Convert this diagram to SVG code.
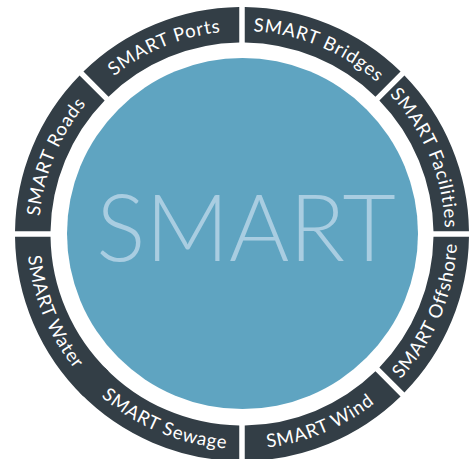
<svg xmlns="http://www.w3.org/2000/svg" width="475" height="459" viewBox="0 0 475 459">
<style>
.seg{fill:#333e46}
.lbl{fill:#ffffff;font-family:Lato,"Open Sans","Liberation Sans",sans-serif;font-size:18.5px;letter-spacing:0.8px}
.core{fill:#5fa4c1}
.coretxt{fill:#a9cde1;font-family:Lato,"Open Sans","Liberation Sans",sans-serif;font-weight:300;font-size:92px}
</style>
<defs>
<path id="pRoads" d="M39,234 A203,203 0 0 1 98.46,90.46"/>
<path id="pPorts" d="M98.46,90.46 A203,203 0 0 1 242,31"/>
<path id="pBridges" d="M242,31 A203,203 0 0 1 385.54,90.46"/>
<path id="pFacilities" d="M385.54,90.46 A203,203 0 0 1 445,234"/>
<path id="pOffshore" d="M394.03,386.03 A215,215 0 0 0 457,234"/>
<path id="pWind" d="M242,449 A215,215 0 0 0 394.03,386.03"/>
<path id="pSewage" d="M89.97,386.03 A215,215 0 0 0 242,449"/>
<path id="pWater" d="M27,234 A215,215 0 0 0 89.97,386.03"/>
</defs>
<rect width="475" height="459" fill="#ffffff"/>
<g id="center">
<circle class="core" cx="242.5" cy="233.5" r="175.5"/>
<text class="coretxt" x="246" y="261" text-anchor="middle">SMART</text>
</g>
<g id="connectors"></g>
<g id="roads">
<path class="seg" d="M15.02,231.25 A227,227 0 0 1 79.56,75.45 L104.66,100.55 A191.5,191.5 0 0 0 50.52,231.25 Z"/>
<text class="lbl"><textPath href="#pRoads" startOffset="50%" text-anchor="middle">SMART Roads</textPath></text>
</g>
<g id="ports">
<path class="seg" d="M83.45,71.56 A227,227 0 0 1 239.25,7.02 L239.25,42.52 A191.5,191.5 0 0 0 108.55,96.65 Z"/>
<text class="lbl"><textPath href="#pPorts" startOffset="50%" text-anchor="middle">SMART Ports</textPath></text>
</g>
<g id="bridges">
<path class="seg" d="M244.75,7.02 A227,227 0 0 1 400.56,71.56 L375.46,96.65 A191.5,191.5 0 0 0 244.75,42.52 Z"/>
<text class="lbl"><textPath href="#pBridges" startOffset="50%" text-anchor="middle">SMART Bridges</textPath></text>
</g>
<g id="facilities">
<path class="seg" d="M404.45,75.45 A227,227 0 0 1 468.98,231.25 L433.48,231.25 A191.5,191.5 0 0 0 379.35,100.55 Z"/>
<text class="lbl"><textPath href="#pFacilities" startOffset="50%" text-anchor="middle">SMART Facilities</textPath></text>
</g>
<g id="offshore">
<path class="seg" d="M468.98,236.75 A227,227 0 0 1 404.45,392.56 L379.35,367.46 A191.5,191.5 0 0 0 433.48,236.75 Z"/>
<text class="lbl"><textPath href="#pOffshore" startOffset="50%" text-anchor="middle">SMART Offshore</textPath></text>
</g>
<g id="wind">
<path class="seg" d="M400.56,396.45 A227,227 0 0 1 244.75,460.98 L244.75,425.48 A191.5,191.5 0 0 0 375.46,371.35 Z"/>
<text class="lbl"><textPath href="#pWind" startOffset="50%" text-anchor="middle">SMART Wind</textPath></text>
</g>
<g id="sewage">
<path class="seg" d="M239.25,460.98 A227,227 0 0 1 79.56,392.56 L104.66,367.46 A191.5,191.5 0 0 0 239.25,425.48 Z"/>
<text class="lbl"><textPath href="#pSewage" startOffset="50%" text-anchor="middle">SMART Sewage</textPath></text>
</g>
<g id="water">
<path class="seg" d="M83.45,396.45 A227,227 0 0 1 15.02,236.75 L50.52,236.75 A191.5,191.5 0 0 0 108.55,371.35 Z"/>
<text class="lbl"><textPath href="#pWater" startOffset="50%" text-anchor="middle">SMART Water</textPath></text>
</g>
</svg>
